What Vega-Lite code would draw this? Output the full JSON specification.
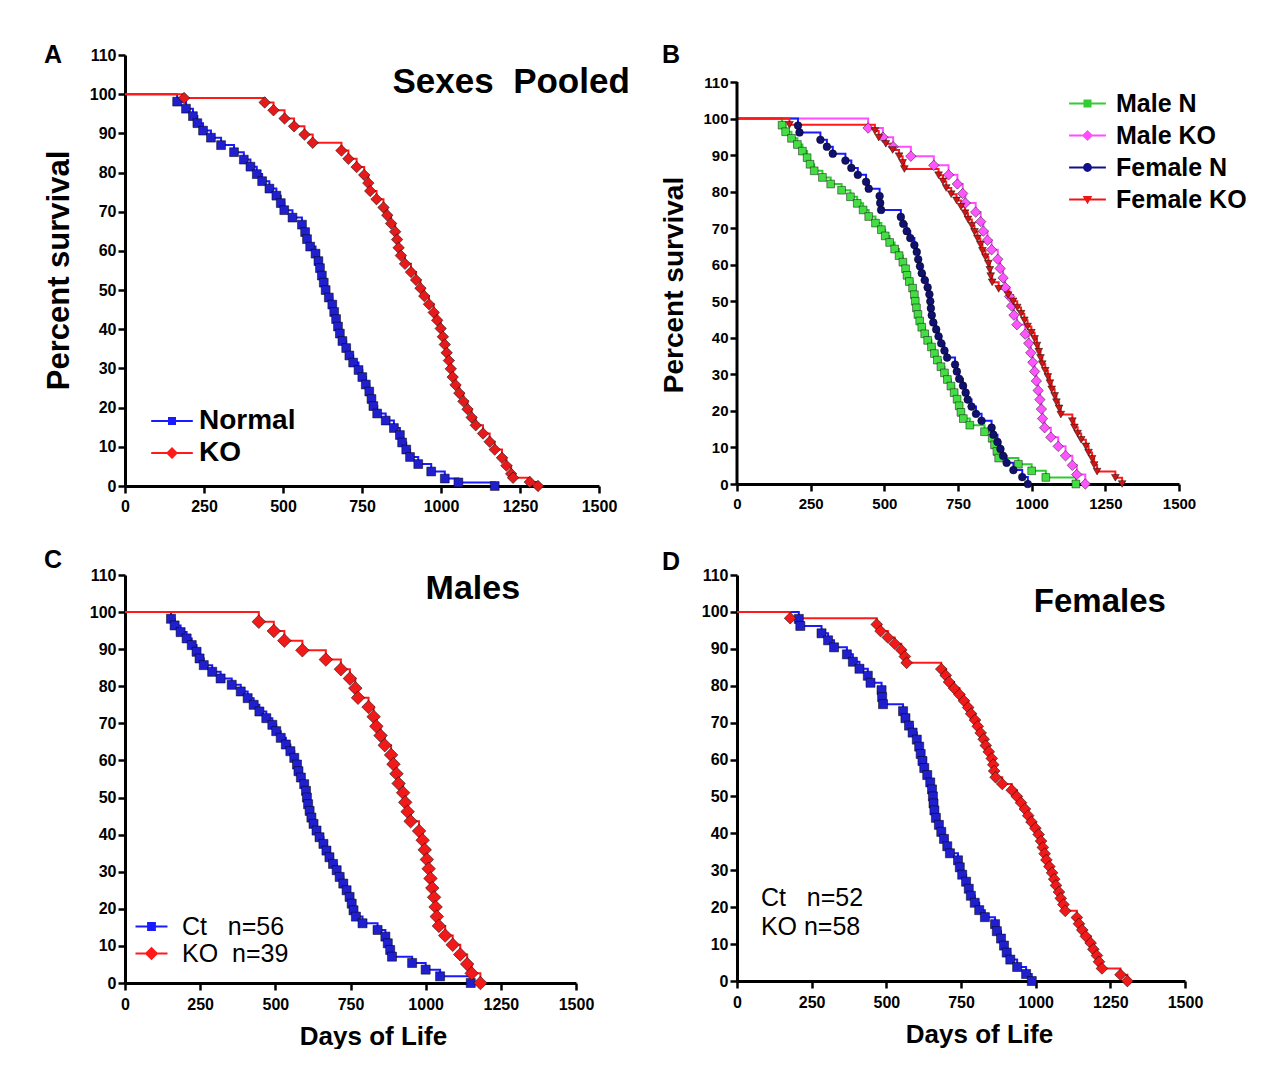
{
"$schema": "https://vega.github.io/schema/vega-lite/v6.json",
"background": "white",
"padding": {"left": 43, "top": 43, "right": 0, "bottom": 0},
"config": {
  "view": {"stroke": null},
  "font": "Liberation Sans",
  "axis": {"grid": false, "domainColor": "black", "domainWidth": 3, "tickColor": "black", "tickWidth": 2.5, "tickSize": 7,
    "labelFont": "Liberation Sans", "labelFontWeight": "bold", "labelColor": "black", "labelFontSize": 16, "labelFlush": false,
    "titleFont": "Liberation Sans", "titleFontWeight": "bold", "titleColor": "black"},
  "text": {"font": "Liberation Sans", "fontWeight": "bold", "color": "black"}
},
"datasets": {
  "pooled": [
    {"series":"Normal","day":0,"surv":100},{"series":"Normal","day":165,"surv":98.1},{"series":"Normal","day":193,"surv":96.3},{"series":"Normal","day":215,"surv":94.4},{"series":"Normal","day":229,"surv":92.6},{"series":"Normal","day":247,"surv":90.7},{"series":"Normal","day":272,"surv":88.9},{"series":"Normal","day":304,"surv":87.0},{"series":"Normal","day":345,"surv":85.2},{"series":"Normal","day":376,"surv":83.3},{"series":"Normal","day":397,"surv":81.5},{"series":"Normal","day":417,"surv":79.6},{"series":"Normal","day":434,"surv":77.8},{"series":"Normal","day":457,"surv":75.9},{"series":"Normal","day":479,"surv":74.1},{"series":"Normal","day":493,"surv":72.2},{"series":"Normal","day":504,"surv":70.4},{"series":"Normal","day":530,"surv":68.5},{"series":"Normal","day":560,"surv":66.7},{"series":"Normal","day":570,"surv":64.8},{"series":"Normal","day":576,"surv":63.0},{"series":"Normal","day":586,"surv":61.1},{"series":"Normal","day":603,"surv":59.3},{"series":"Normal","day":612,"surv":57.4},{"series":"Normal","day":617,"surv":55.6},{"series":"Normal","day":623,"surv":53.7},{"series":"Normal","day":629,"surv":51.9},{"series":"Normal","day":635,"surv":50.0},{"series":"Normal","day":645,"surv":48.1},{"series":"Normal","day":656,"surv":46.3},{"series":"Normal","day":662,"surv":44.4},{"series":"Normal","day":668,"surv":42.6},{"series":"Normal","day":674,"surv":40.7},{"series":"Normal","day":680,"surv":38.9},{"series":"Normal","day":688,"surv":37.0},{"series":"Normal","day":700,"surv":35.2},{"series":"Normal","day":710,"surv":33.3},{"series":"Normal","day":722,"surv":31.5},{"series":"Normal","day":739,"surv":29.6},{"series":"Normal","day":751,"surv":27.8},{"series":"Normal","day":762,"surv":25.9},{"series":"Normal","day":773,"surv":24.1},{"series":"Normal","day":780,"surv":22.2},{"series":"Normal","day":786,"surv":20.4},{"series":"Normal","day":798,"surv":18.5},{"series":"Normal","day":825,"surv":16.7},{"series":"Normal","day":851,"surv":14.8},{"series":"Normal","day":870,"surv":13.0},{"series":"Normal","day":877,"surv":11.1},{"series":"Normal","day":890,"surv":9.3},{"series":"Normal","day":902,"surv":7.4},{"series":"Normal","day":928,"surv":5.6},{"series":"Normal","day":969,"surv":3.7},{"series":"Normal","day":1012,"surv":1.9},{"series":"Normal","day":1055,"surv":0.9},{"series":"Normal","day":1170,"surv":0},
    {"series":"KO","day":0,"surv":100},{"series":"KO","day":187,"surv":99.0},{"series":"KO","day":442,"surv":97.9},{"series":"KO","day":470,"surv":95.9},{"series":"KO","day":505,"surv":93.8},{"series":"KO","day":535,"surv":91.8},{"series":"KO","day":568,"surv":89.7},{"series":"KO","day":594,"surv":87.6},{"series":"KO","day":685,"surv":85.6},{"series":"KO","day":707,"surv":83.5},{"series":"KO","day":733,"surv":81.4},{"series":"KO","day":757,"surv":79.4},{"series":"KO","day":770,"surv":77.3},{"series":"KO","day":776,"surv":75.3},{"series":"KO","day":796,"surv":73.2},{"series":"KO","day":818,"surv":71.1},{"series":"KO","day":830,"surv":69.1},{"series":"KO","day":842,"surv":67.0},{"series":"KO","day":855,"surv":64.9},{"series":"KO","day":861,"surv":62.9},{"series":"KO","day":866,"surv":60.8},{"series":"KO","day":873,"surv":58.8},{"series":"KO","day":886,"surv":56.7},{"series":"KO","day":905,"surv":54.6},{"series":"KO","day":921,"surv":52.6},{"series":"KO","day":935,"surv":50.5},{"series":"KO","day":947,"surv":48.5},{"series":"KO","day":962,"surv":46.4},{"series":"KO","day":977,"surv":44.3},{"series":"KO","day":988,"surv":42.3},{"series":"KO","day":999,"surv":40.2},{"series":"KO","day":1006,"surv":38.1},{"series":"KO","day":1012,"surv":36.1},{"series":"KO","day":1018,"surv":34.0},{"series":"KO","day":1025,"surv":32.0},{"series":"KO","day":1031,"surv":29.9},{"series":"KO","day":1037,"surv":27.8},{"series":"KO","day":1046,"surv":25.8},{"series":"KO","day":1058,"surv":23.7},{"series":"KO","day":1071,"surv":21.6},{"series":"KO","day":1084,"surv":19.6},{"series":"KO","day":1097,"surv":17.5},{"series":"KO","day":1110,"surv":15.5},{"series":"KO","day":1133,"surv":13.4},{"series":"KO","day":1154,"surv":11.3},{"series":"KO","day":1170,"surv":9.3},{"series":"KO","day":1193,"surv":7.2},{"series":"KO","day":1207,"surv":5.2},{"series":"KO","day":1222,"surv":3.1},{"series":"KO","day":1228,"surv":2.1},{"series":"KO","day":1281,"surv":1.0},{"series":"KO","day":1307,"surv":0}
  ],
  "sexes": [
    {"series":"Male N","day":0,"surv":100},{"series":"Male N","day":153,"surv":98.2},{"series":"Male N","day":165,"surv":96.4},{"series":"Male N","day":185,"surv":94.6},{"series":"Male N","day":205,"surv":92.9},{"series":"Male N","day":222,"surv":91.1},{"series":"Male N","day":238,"surv":89.3},{"series":"Male N","day":248,"surv":87.5},{"series":"Male N","day":262,"surv":85.7},{"series":"Male N","day":290,"surv":83.9},{"series":"Male N","day":318,"surv":82.1},{"series":"Male N","day":355,"surv":80.4},{"series":"Male N","day":385,"surv":78.6},{"series":"Male N","day":408,"surv":76.8},{"series":"Male N","day":428,"surv":75.0},{"series":"Male N","day":447,"surv":73.2},{"series":"Male N","day":470,"surv":71.4},{"series":"Male N","day":490,"surv":69.6},{"series":"Male N","day":503,"surv":67.9},{"series":"Male N","day":518,"surv":66.1},{"series":"Male N","day":535,"surv":64.3},{"series":"Male N","day":550,"surv":62.5},{"series":"Male N","day":563,"surv":60.7},{"series":"Male N","day":572,"surv":58.9},{"series":"Male N","day":577,"surv":57.1},{"series":"Male N","day":585,"surv":55.4},{"series":"Male N","day":596,"surv":53.6},{"series":"Male N","day":602,"surv":51.8},{"series":"Male N","day":605,"surv":50.0},{"series":"Male N","day":609,"surv":48.2},{"series":"Male N","day":614,"surv":46.4},{"series":"Male N","day":620,"surv":44.6},{"series":"Male N","day":627,"surv":42.9},{"series":"Male N","day":637,"surv":41.1},{"series":"Male N","day":647,"surv":39.3},{"series":"Male N","day":660,"surv":37.5},{"series":"Male N","day":670,"surv":35.7},{"series":"Male N","day":680,"surv":33.9},{"series":"Male N","day":692,"surv":32.1},{"series":"Male N","day":704,"surv":30.4},{"series":"Male N","day":714,"surv":28.6},{"series":"Male N","day":726,"surv":26.8},{"series":"Male N","day":737,"surv":25.0},{"series":"Male N","day":747,"surv":23.2},{"series":"Male N","day":754,"surv":21.4},{"series":"Male N","day":760,"surv":19.6},{"series":"Male N","day":768,"surv":17.9},{"series":"Male N","day":790,"surv":16.1},{"series":"Male N","day":840,"surv":14.3},{"series":"Male N","day":866,"surv":12.5},{"series":"Male N","day":874,"surv":10.7},{"series":"Male N","day":882,"surv":8.9},{"series":"Male N","day":888,"surv":7.1},{"series":"Male N","day":955,"surv":5.4},{"series":"Male N","day":1000,"surv":3.6},{"series":"Male N","day":1048,"surv":1.8},{"series":"Male N","day":1150,"surv":0},
    {"series":"Male KO","day":0,"surv":100},{"series":"Male KO","day":445,"surv":97.4},{"series":"Male KO","day":495,"surv":94.9},{"series":"Male KO","day":530,"surv":92.3},{"series":"Male KO","day":590,"surv":89.7},{"series":"Male KO","day":668,"surv":87.2},{"series":"Male KO","day":718,"surv":84.6},{"series":"Male KO","day":748,"surv":82.1},{"series":"Male KO","day":766,"surv":79.5},{"series":"Male KO","day":775,"surv":76.9},{"series":"Male KO","day":810,"surv":74.4},{"series":"Male KO","day":827,"surv":71.8},{"series":"Male KO","day":836,"surv":69.2},{"series":"Male KO","day":850,"surv":66.7},{"series":"Male KO","day":864,"surv":64.1},{"series":"Male KO","day":885,"surv":61.5},{"series":"Male KO","day":893,"surv":59.0},{"series":"Male KO","day":903,"surv":56.4},{"series":"Male KO","day":910,"surv":53.8},{"series":"Male KO","day":925,"surv":51.3},{"series":"Male KO","day":932,"surv":48.7},{"series":"Male KO","day":940,"surv":46.2},{"series":"Male KO","day":950,"surv":43.6},{"series":"Male KO","day":978,"surv":41.0},{"series":"Male KO","day":990,"surv":38.5},{"series":"Male KO","day":997,"surv":35.9},{"series":"Male KO","day":1004,"surv":33.3},{"series":"Male KO","day":1010,"surv":30.8},{"series":"Male KO","day":1016,"surv":28.2},{"series":"Male KO","day":1022,"surv":25.6},{"series":"Male KO","day":1028,"surv":23.1},{"series":"Male KO","day":1033,"surv":20.5},{"series":"Male KO","day":1037,"surv":17.9},{"series":"Male KO","day":1044,"surv":15.4},{"series":"Male KO","day":1065,"surv":12.8},{"series":"Male KO","day":1090,"surv":10.3},{"series":"Male KO","day":1115,"surv":7.7},{"series":"Male KO","day":1138,"surv":5.1},{"series":"Male KO","day":1153,"surv":2.6},{"series":"Male KO","day":1182,"surv":0},
    {"series":"Female N","day":0,"surv":100},{"series":"Female N","day":207,"surv":98.1},{"series":"Female N","day":212,"surv":96.2},{"series":"Female N","day":283,"surv":94.2},{"series":"Female N","day":305,"surv":92.3},{"series":"Female N","day":325,"surv":90.4},{"series":"Female N","day":368,"surv":88.5},{"series":"Female N","day":388,"surv":86.5},{"series":"Female N","day":410,"surv":84.6},{"series":"Female N","day":438,"surv":82.7},{"series":"Female N","day":447,"surv":80.8},{"series":"Female N","day":484,"surv":78.8},{"series":"Female N","day":486,"surv":76.9},{"series":"Female N","day":489,"surv":75.0},{"series":"Female N","day":556,"surv":73.1},{"series":"Female N","day":564,"surv":71.2},{"series":"Female N","day":576,"surv":69.2},{"series":"Female N","day":588,"surv":67.3},{"series":"Female N","day":602,"surv":65.4},{"series":"Female N","day":610,"surv":63.5},{"series":"Female N","day":615,"surv":61.5},{"series":"Female N","day":621,"surv":59.6},{"series":"Female N","day":627,"surv":57.7},{"series":"Female N","day":637,"surv":55.8},{"series":"Female N","day":647,"surv":53.8},{"series":"Female N","day":653,"surv":51.9},{"series":"Female N","day":656,"surv":50.0},{"series":"Female N","day":658,"surv":48.1},{"series":"Female N","day":661,"surv":46.2},{"series":"Female N","day":666,"surv":44.2},{"series":"Female N","day":676,"surv":42.3},{"series":"Female N","day":684,"surv":40.4},{"series":"Female N","day":693,"surv":38.5},{"series":"Female N","day":704,"surv":36.5},{"series":"Female N","day":713,"surv":34.6},{"series":"Female N","day":740,"surv":32.7},{"series":"Female N","day":746,"surv":30.8},{"series":"Female N","day":754,"surv":28.8},{"series":"Female N","day":767,"surv":26.9},{"series":"Female N","day":776,"surv":25.0},{"series":"Female N","day":783,"surv":23.1},{"series":"Female N","day":796,"surv":21.2},{"series":"Female N","day":811,"surv":19.2},{"series":"Female N","day":830,"surv":17.3},{"series":"Female N","day":864,"surv":15.4},{"series":"Female N","day":870,"surv":13.5},{"series":"Female N","day":884,"surv":11.5},{"series":"Female N","day":894,"surv":9.6},{"series":"Female N","day":903,"surv":7.7},{"series":"Female N","day":915,"surv":5.8},{"series":"Female N","day":938,"surv":3.8},{"series":"Female N","day":968,"surv":1.9},{"series":"Female N","day":987,"surv":0},
    {"series":"Female KO","day":0,"surv":100},{"series":"Female KO","day":178,"surv":98.3},{"series":"Female KO","day":468,"surv":96.6},{"series":"Female KO","day":481,"surv":94.8},{"series":"Female KO","day":505,"surv":93.1},{"series":"Female KO","day":528,"surv":91.4},{"series":"Female KO","day":550,"surv":89.7},{"series":"Female KO","day":562,"surv":87.9},{"series":"Female KO","day":568,"surv":86.2},{"series":"Female KO","day":684,"surv":84.5},{"series":"Female KO","day":699,"surv":82.8},{"series":"Female KO","day":710,"surv":81.0},{"series":"Female KO","day":727,"surv":79.3},{"series":"Female KO","day":745,"surv":77.6},{"series":"Female KO","day":760,"surv":75.9},{"series":"Female KO","day":774,"surv":74.1},{"series":"Female KO","day":784,"surv":72.4},{"series":"Female KO","day":797,"surv":70.7},{"series":"Female KO","day":806,"surv":69.0},{"series":"Female KO","day":816,"surv":67.2},{"series":"Female KO","day":826,"surv":65.5},{"series":"Female KO","day":833,"surv":63.8},{"series":"Female KO","day":843,"surv":62.1},{"series":"Female KO","day":853,"surv":60.3},{"series":"Female KO","day":858,"surv":58.6},{"series":"Female KO","day":861,"surv":56.9},{"series":"Female KO","day":866,"surv":55.2},{"series":"Female KO","day":888,"surv":53.4},{"series":"Female KO","day":920,"surv":51.7},{"series":"Female KO","day":937,"surv":50.0},{"series":"Female KO","day":951,"surv":48.3},{"series":"Female KO","day":964,"surv":46.6},{"series":"Female KO","day":975,"surv":44.8},{"series":"Female KO","day":986,"surv":43.1},{"series":"Female KO","day":999,"surv":41.4},{"series":"Female KO","day":1010,"surv":39.7},{"series":"Female KO","day":1018,"surv":37.9},{"series":"Female KO","day":1024,"surv":36.2},{"series":"Female KO","day":1030,"surv":34.5},{"series":"Female KO","day":1036,"surv":32.8},{"series":"Female KO","day":1046,"surv":31.0},{"series":"Female KO","day":1055,"surv":29.3},{"series":"Female KO","day":1062,"surv":27.6},{"series":"Female KO","day":1068,"surv":25.9},{"series":"Female KO","day":1078,"surv":24.1},{"series":"Female KO","day":1084,"surv":22.4},{"series":"Female KO","day":1093,"surv":20.7},{"series":"Female KO","day":1099,"surv":19.0},{"series":"Female KO","day":1138,"surv":17.2},{"series":"Female KO","day":1145,"surv":15.5},{"series":"Female KO","day":1156,"surv":13.8},{"series":"Female KO","day":1168,"surv":12.1},{"series":"Female KO","day":1184,"surv":10.3},{"series":"Female KO","day":1193,"surv":8.6},{"series":"Female KO","day":1205,"surv":6.9},{"series":"Female KO","day":1212,"surv":5.2},{"series":"Female KO","day":1222,"surv":3.4},{"series":"Female KO","day":1284,"surv":1.7},{"series":"Female KO","day":1307,"surv":0}
  ]
},
"columns": 2,
"spacing": {"row": 34, "column": 30},
"resolve": {"scale": {"color": "independent", "shape": "independent", "fill": "independent"}},
"concat": [
  {
    "width": 474, "height": 431,
    "data": {"name": "pooled"},
    "resolve": {"scale": {"color": "independent", "shape": "independent"}},
    "layer": [
      {"mark": {"type": "line", "interpolate": "step-after", "strokeWidth": 2},
        "encoding": {
          "x": {"field": "day", "type": "quantitative", "scale": {"domain": [0, 1500], "nice": false, "zero": false},
            "axis": {"values": [0, 250, 500, 750, 1000, 1250, 1500], "tickCount": 20, "format": "d", "labelOverlap": false, "title": null, "labelPadding": 5}},
          "y": {"field": "surv", "type": "quantitative", "scale": {"domain": [0, 110], "nice": false, "zero": false},
            "axis": {"values": [0, 10, 20, 30, 40, 50, 60, 70, 80, 90, 100, 110], "tickCount": 20, "format": "d", "labelOverlap": false, "labelPadding": 2, "title": "Percent survival", "titleFontSize": 31, "titleX": -66, "titleY": 215, "titleBaseline": "middle", "titleAlign": "center"}},
          "color": {"field": "series", "type": "nominal", "scale": {"domain": ["Normal", "KO"], "range": ["#1a1aff", "#ff1a1a"]}, "legend": null}}},
      {"transform": [{"filter": "datum.day > 0"}],
        "mark": {"type": "point", "filled": true, "size": 78, "stroke": "#000000", "strokeWidth": 1, "strokeOpacity": 0.5, "opacity": 1},
        "encoding": {
          "x": {"field": "day", "type": "quantitative", "scale": {"domain": [0, 1500], "nice": false, "zero": false}},
          "y": {"field": "surv", "type": "quantitative", "scale": {"domain": [0, 110], "nice": false, "zero": false}},
          "fill": {"field": "series", "type": "nominal", "scale": {"domain": ["Normal", "KO"], "range": ["#1f1fd0", "#e61a1a"]}, "legend": null},
          "shape": {"field": "series", "type": "nominal", "scale": {"domain": ["Normal", "KO"], "range": ["square", "M0,-1.3L1.3,0L0,1.3L-1.3,0Z"]}, "legend": null}}},
      {"transform": [{"filter": "false"}],
        "mark": {"type": "point", "filled": true},
        "encoding": {
          "x": {"field": "day", "type": "quantitative", "scale": {"domain": [0, 1500], "nice": false, "zero": false}},
          "y": {"field": "surv", "type": "quantitative", "scale": {"domain": [0, 110], "nice": false, "zero": false}},
          "color": {"field": "series", "type": "nominal", "scale": {"domain": ["Normal", "KO"], "range": ["#1a1aff", "#ff1a1a"]},
            "legend": {"orient": "none", "legendX": 33, "legendY": 352, "title": null, "padding": 0, "symbolSize": 256, "symbolStrokeWidth": 0, "symbolFillColor": "black", "symbolOpacity": 1, "labelFont": "Liberation Sans", "labelFontSize": 28, "labelFontWeight": "bold", "labelColor": "black", "labelOffset": 13, "rowPadding": 4, "labelLimit": 400}},
          "shape": {"field": "series", "type": "nominal", "scale": {"domain": ["Normal", "KO"], "range": ["M-2.6,-0.13H2.6V0.13H-2.6Z M-0.5,-0.5H0.5V0.5H-0.5Z", "M-2.6,-0.13H2.6V0.13H-2.6Z M0,-0.75L0.75,0L0,0.75L-0.75,0Z"]},
            "legend": {"orient": "none", "legendX": 33, "legendY": 352, "title": null, "padding": 0, "symbolSize": 256, "symbolStrokeWidth": 0, "symbolFillColor": "black", "symbolOpacity": 1, "labelFont": "Liberation Sans", "labelFontSize": 28, "labelFontWeight": "bold", "labelColor": "black", "labelOffset": 13, "rowPadding": 4, "labelLimit": 400}}}},
      {"data": {"values": [{}]}, "mark": {"type": "text", "fontSize": 25, "align": "center", "baseline": "middle"},
        "encoding": {"x": {"datum": -228, "type": "quantitative", "scale": {"domain": [0, 1500], "nice": false, "zero": false}}, "y": {"datum": 110, "type": "quantitative", "scale": {"domain": [0, 110], "nice": false, "zero": false}}, "text": {"value": "A"}}},
      {"data": {"values": [{}]}, "mark": {"type": "text", "fontSize": 35, "align": "center", "baseline": "middle"},
        "encoding": {"x": {"datum": 1222, "type": "quantitative", "scale": {"domain": [0, 1500], "nice": false, "zero": false}}, "y": {"datum": 103.1, "type": "quantitative", "scale": {"domain": [0, 110], "nice": false, "zero": false}}, "text": {"value": "Sexes\u00a0 Pooled"}}}
    ]
  },
  {
    "width": 442, "height": 429,
    "data": {"name": "sexes"},
    "resolve": {"scale": {"color": "independent", "shape": "independent"}},
    "layer": [
      {"mark": {"type": "line", "interpolate": "step-after", "strokeWidth": 2},
        "encoding": {
          "x": {"field": "day", "type": "quantitative", "scale": {"domain": [0, 1500], "nice": false, "zero": false},
            "axis": {"values": [0, 250, 500, 750, 1000, 1250, 1500], "tickCount": 20, "format": "d", "labelOverlap": false, "title": null, "labelPadding": 5, "labelFontSize": 15}},
          "y": {"field": "surv", "type": "quantitative", "scale": {"domain": [0, 117.4], "nice": false, "zero": false},
            "axis": {"values": [0, 10, 20, 30, 40, 50, 60, 70, 80, 90, 100, 110], "tickCount": 20, "format": "d", "domain": false, "labelOverlap": false, "labelPadding": 2, "labelFontSize": 15, "title": "Percent survival", "titleFontSize": 28, "titleX": -63, "titleY": 229.5, "titleBaseline": "middle", "titleAlign": "center"}},
          "color": {"field": "series", "type": "nominal", "scale": {"domain": ["Male N", "Male KO", "Female N", "Female KO"], "range": ["#2ecc2e", "#ff4dff", "#1a1aff", "#ff1a1a"]}, "legend": null}}},
      {"data": {"values": [{}]}, "mark": {"type": "rule", "strokeWidth": 3, "color": "black"},
        "encoding": {"x": {"datum": 0, "type": "quantitative", "scale": {"domain": [0, 1500], "nice": false, "zero": false}}, "y": {"datum": 0, "type": "quantitative", "scale": {"domain": [0, 117.4], "nice": false, "zero": false}}, "y2": {"datum": 110}}},
      {"transform": [{"filter": "datum.day > 0"}],
        "mark": {"type": "point", "filled": true, "size": 60, "stroke": "#000000", "strokeWidth": 1, "strokeOpacity": 0.45, "opacity": 1},
        "encoding": {
          "x": {"field": "day", "type": "quantitative", "scale": {"domain": [0, 1500], "nice": false, "zero": false}},
          "y": {"field": "surv", "type": "quantitative", "scale": {"domain": [0, 117.4], "nice": false, "zero": false}},
          "fill": {"field": "series", "type": "nominal", "scale": {"domain": ["Male N", "Male KO", "Female N", "Female KO"], "range": ["#44dd44", "#ff55ff", "#101070", "#d01515"]}, "legend": null},
          "shape": {"field": "series", "type": "nominal", "scale": {"domain": ["Male N", "Male KO", "Female N", "Female KO"], "range": ["square", "M0,-1.35L1.35,0L0,1.35L-1.35,0Z", "circle", "triangle-down"]}, "legend": null}}},
      {"transform": [{"filter": "false"}],
        "mark": {"type": "point", "filled": true},
        "encoding": {
          "x": {"field": "day", "type": "quantitative", "scale": {"domain": [0, 1500], "nice": false, "zero": false}},
          "y": {"field": "surv", "type": "quantitative", "scale": {"domain": [0, 117.4], "nice": false, "zero": false}},
          "color": {"field": "series", "type": "nominal", "scale": {"domain": ["Male N", "Male KO", "Female N", "Female KO"], "range": ["#33cc33", "#ff4dff", "#10108a", "#ee1515"]},
            "legend": {"orient": "none", "legendX": 338, "legendY": 36, "title": null, "padding": 0, "symbolSize": 256, "symbolStrokeWidth": 0, "symbolFillColor": "black", "symbolOpacity": 1, "labelFont": "Liberation Sans", "labelFontSize": 25, "labelFontWeight": "bold", "labelColor": "black", "labelOffset": 16, "rowPadding": 6, "labelLimit": 400}},
          "shape": {"field": "series", "type": "nominal", "scale": {"domain": ["Male N", "Male KO", "Female N", "Female KO"], "range": ["M-2.3,-0.13H2.3V0.13H-2.3Z M-0.5,-0.5H0.5V0.5H-0.5Z", "M-2.3,-0.13H2.3V0.13H-2.3Z M0,-0.7L0.7,0L0,0.7L-0.7,0Z", "M-2.3,-0.13H2.3V0.13H-2.3Z M-0.55,0A0.55,0.55,0,1,1,0.55,0A0.55,0.55,0,1,1,-0.55,0Z", "M-2.3,-0.13H2.3V0.13H-2.3Z M-0.6,-0.45L0.6,-0.45L0,0.6Z"]},
            "legend": {"orient": "none", "legendX": 338, "legendY": 36, "title": null, "padding": 0, "symbolSize": 256, "symbolStrokeWidth": 0, "symbolFillColor": "black", "symbolOpacity": 1, "labelFont": "Liberation Sans", "labelFontSize": 25, "labelFontWeight": "bold", "labelColor": "black", "labelOffset": 16, "rowPadding": 6, "labelLimit": 400}}}},
      {"data": {"values": [{}]}, "mark": {"type": "text", "fontSize": 25, "align": "center", "baseline": "middle"},
        "encoding": {"x": {"datum": -224, "type": "quantitative", "scale": {"domain": [0, 1500], "nice": false, "zero": false}}, "y": {"datum": 117.4, "type": "quantitative", "scale": {"domain": [0, 117.4], "nice": false, "zero": false}}, "text": {"value": "B"}}}
    ]
  },
  {
    "width": 451, "height": 408,
    "data": {"name": "sexes"},
    "resolve": {"scale": {"color": "independent", "shape": "independent"}},
    "layer": [
      {"transform": [{"filter": {"field": "series", "oneOf": ["Male N", "Male KO"]}}],
        "mark": {"type": "line", "interpolate": "step-after", "strokeWidth": 2},
        "encoding": {
          "x": {"field": "day", "type": "quantitative", "scale": {"domain": [0, 1500], "nice": false, "zero": false},
            "axis": {"values": [0, 250, 500, 750, 1000, 1250, 1500], "tickCount": 20, "format": "d", "labelOverlap": false, "labelPadding": 6, "title": "Days of Life", "titleFontSize": 26, "titleX": 248, "titleY": 53, "titleBaseline": "middle", "titleAlign": "center"}},
          "y": {"field": "surv", "type": "quantitative", "scale": {"domain": [0, 110], "nice": false, "zero": false},
            "axis": {"values": [0, 10, 20, 30, 40, 50, 60, 70, 80, 90, 100, 110], "tickCount": 20, "format": "d", "labelOverlap": false, "labelPadding": 2, "title": null}},
          "color": {"field": "series", "type": "nominal", "scale": {"domain": ["Male N", "Male KO"], "range": ["#1a1aff", "#ff1a1a"]}, "legend": null}}},
      {"transform": [{"filter": {"field": "series", "oneOf": ["Male N", "Male KO"]}}, {"filter": "datum.day > 0"}],
        "mark": {"type": "point", "filled": true, "size": 82, "stroke": "#000000", "strokeWidth": 1, "strokeOpacity": 0.5, "opacity": 1},
        "encoding": {
          "x": {"field": "day", "type": "quantitative", "scale": {"domain": [0, 1500], "nice": false, "zero": false}},
          "y": {"field": "surv", "type": "quantitative", "scale": {"domain": [0, 110], "nice": false, "zero": false}},
          "fill": {"field": "series", "type": "nominal", "scale": {"domain": ["Male N", "Male KO"], "range": ["#1f1fd0", "#f01a1a"]}, "legend": null},
          "shape": {"field": "series", "type": "nominal", "scale": {"domain": ["Male N", "Male KO"], "range": ["square", "M0,-1.5L1.5,0L0,1.5L-1.5,0Z"]}, "legend": null}}},
      {"transform": [{"filter": "false"}],
        "mark": {"type": "point", "filled": true},
        "encoding": {
          "x": {"field": "day", "type": "quantitative", "scale": {"domain": [0, 1500], "nice": false, "zero": false}},
          "y": {"field": "surv", "type": "quantitative", "scale": {"domain": [0, 110], "nice": false, "zero": false}},
          "color": {"field": "series", "type": "nominal", "scale": {"domain": ["Male N", "Male KO"], "range": ["#1a1aff", "#ff1a1a"]},
            "legend": {"orient": "none", "legendX": 14, "legendY": 339, "title": null, "padding": 0, "symbolSize": 256, "symbolStrokeWidth": 0, "symbolFillColor": "black", "symbolOpacity": 1, "labelFont": "Liberation Sans", "labelFontSize": 25, "labelFontWeight": "normal", "labelColor": "black", "labelOffset": 18, "rowPadding": 1, "labelLimit": 400,
              "labelExpr": "datum.label == 'Male N' ? 'Ct\u00a0\u00a0 n=56' : 'KO\u00a0 n=39'"}},
          "shape": {"field": "series", "type": "nominal", "scale": {"domain": ["Male N", "Male KO"], "range": ["M-2,-0.13H2V0.13H-2Z M-0.55,-0.55H0.55V0.55H-0.55Z", "M-2,-0.13H2V0.13H-2Z M0,-0.85L0.85,0L0,0.85L-0.85,0Z"]},
            "legend": {"orient": "none", "legendX": 14, "legendY": 339, "title": null, "padding": 0, "symbolSize": 256, "symbolStrokeWidth": 0, "symbolFillColor": "black", "symbolOpacity": 1, "labelFont": "Liberation Sans", "labelFontSize": 25, "labelFontWeight": "normal", "labelColor": "black", "labelOffset": 18, "rowPadding": 1, "labelLimit": 400,
              "labelExpr": "datum.label == 'Male N' ? 'Ct\u00a0\u00a0 n=56' : 'KO\u00a0 n=39'"}}}},
      {"data": {"values": [{}]}, "mark": {"type": "text", "fontSize": 25, "align": "center", "baseline": "middle"},
        "encoding": {"x": {"datum": -239, "type": "quantitative", "scale": {"domain": [0, 1500], "nice": false, "zero": false}}, "y": {"datum": 114, "type": "quantitative", "scale": {"domain": [0, 110], "nice": false, "zero": false}}, "text": {"value": "C"}}},
      {"data": {"values": [{}]}, "mark": {"type": "text", "fontSize": 34, "align": "center", "baseline": "middle"},
        "encoding": {"x": {"datum": 1157, "type": "quantitative", "scale": {"domain": [0, 1500], "nice": false, "zero": false}}, "y": {"datum": 106.2, "type": "quantitative", "scale": {"domain": [0, 110], "nice": false, "zero": false}}, "text": {"value": "Males"}}}
    ]
  },
  {
    "width": 448, "height": 406,
    "data": {"name": "sexes"},
    "resolve": {"scale": {"color": "independent", "shape": "independent"}},
    "layer": [
      {"transform": [{"filter": {"field": "series", "oneOf": ["Female N", "Female KO"]}}],
        "mark": {"type": "line", "interpolate": "step-after", "strokeWidth": 2},
        "encoding": {
          "x": {"field": "day", "type": "quantitative", "scale": {"domain": [0, 1500], "nice": false, "zero": false},
            "axis": {"values": [0, 250, 500, 750, 1000, 1250, 1500], "tickCount": 20, "format": "d", "labelOverlap": false, "labelPadding": 6, "title": "Days of Life", "titleFontSize": 26, "titleX": 242, "titleY": 53, "titleBaseline": "middle", "titleAlign": "center"}},
          "y": {"field": "surv", "type": "quantitative", "scale": {"domain": [0, 110], "nice": false, "zero": false},
            "axis": {"values": [0, 10, 20, 30, 40, 50, 60, 70, 80, 90, 100, 110], "tickCount": 20, "format": "d", "labelOverlap": false, "labelPadding": 2, "title": null}},
          "color": {"field": "series", "type": "nominal", "scale": {"domain": ["Female N", "Female KO"], "range": ["#1a1aff", "#ff1a1a"]}, "legend": null}}},
      {"transform": [{"filter": {"field": "series", "oneOf": ["Female N", "Female KO"]}}, {"filter": "datum.day > 0"}],
        "mark": {"type": "point", "filled": true, "size": 82, "stroke": "#000000", "strokeWidth": 1, "strokeOpacity": 0.5, "opacity": 1},
        "encoding": {
          "x": {"field": "day", "type": "quantitative", "scale": {"domain": [0, 1500], "nice": false, "zero": false}},
          "y": {"field": "surv", "type": "quantitative", "scale": {"domain": [0, 110], "nice": false, "zero": false}},
          "fill": {"field": "series", "type": "nominal", "scale": {"domain": ["Female N", "Female KO"], "range": ["#1f1fd0", "#f01a1a"]}, "legend": null},
          "shape": {"field": "series", "type": "nominal", "scale": {"domain": ["Female N", "Female KO"], "range": ["square", "M0,-1.3L1.3,0L0,1.3L-1.3,0Z"]}, "legend": null}}},
      {"data": {"values": [{}]}, "mark": {"type": "text", "fontSize": 25, "align": "center", "baseline": "middle"},
        "encoding": {"x": {"datum": -221, "type": "quantitative", "scale": {"domain": [0, 1500], "nice": false, "zero": false}}, "y": {"datum": 113.5, "type": "quantitative", "scale": {"domain": [0, 110], "nice": false, "zero": false}}, "text": {"value": "D"}}},
      {"data": {"values": [{}]}, "mark": {"type": "text", "fontSize": 33, "align": "center", "baseline": "middle"},
        "encoding": {"x": {"datum": 1215, "type": "quantitative", "scale": {"domain": [0, 1500], "nice": false, "zero": false}}, "y": {"datum": 102.7, "type": "quantitative", "scale": {"domain": [0, 110], "nice": false, "zero": false}}, "text": {"value": "Females"}}},
      {"data": {"values": [{}]}, "mark": {"type": "text", "fontSize": 25, "fontWeight": "normal", "align": "left", "baseline": "middle"},
        "encoding": {"x": {"datum": 80, "type": "quantitative", "scale": {"domain": [0, 1500], "nice": false, "zero": false}}, "y": {"datum": 22.5, "type": "quantitative", "scale": {"domain": [0, 110], "nice": false, "zero": false}}, "text": {"value": "Ct\u00a0\u00a0 n=52"}}},
      {"data": {"values": [{}]}, "mark": {"type": "text", "fontSize": 25, "fontWeight": "normal", "align": "left", "baseline": "middle"},
        "encoding": {"x": {"datum": 80, "type": "quantitative", "scale": {"domain": [0, 1500], "nice": false, "zero": false}}, "y": {"datum": 14.6, "type": "quantitative", "scale": {"domain": [0, 110], "nice": false, "zero": false}}, "text": {"value": "KO n=58"}}}
    ]
  }
]
}
